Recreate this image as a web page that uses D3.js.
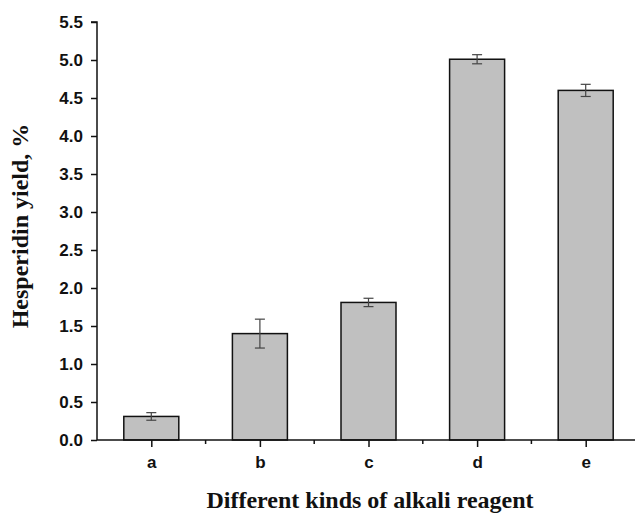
<!DOCTYPE html>
<html>
<head>
<meta charset="utf-8">
<script src="https://cdn.jsdelivr.net/npm/d3@7/dist/d3.min.js"></script>
<style>
  html, body { margin: 0; padding: 0; background: #fff; }
  svg { display: block; }
</style>
</head>
<body>
<svg id="chart" width="635" height="515"></svg>
<script>
// Hesperidin yield by alkali reagent
const categories = ["a", "b", "c", "d", "e"];
const yieldValues = [0.31, 1.40, 1.81, 5.01, 4.60];
const yieldErrors = [0.05, 0.19, 0.055, 0.06, 0.08];
const yTicks = [0, 0.5, 1, 1.5, 2, 2.5, 3, 3.5, 4, 4.5, 5, 5.5];

const svg = d3.select("#chart");
const x0 = 97, x1 = 640, yBase = 440, yTop = 22;

// categories sit at positions 1..5 on a linear axis from 0.5 to 5.5
const x = d3.scaleLinear().domain([0.5, 5.5]).range([x0, x1]);
const y = d3.scaleLinear().domain([0, 5.5]).range([yBase, yTop]);
const barW = 55;

const data = categories.map((c, i) => ({ c, pos: i + 1, v: yieldValues[i], e: yieldErrors[i] }));

// bars
svg.append("g").selectAll("rect").data(data).join("rect")
  .attr("x", d => x(d.pos) - barW / 2)
  .attr("y", d => y(d.v))
  .attr("width", barW)
  .attr("height", d => y(0) - y(d.v))
  .attr("fill", "#c0c0c0")
  .attr("stroke", "#111")
  .attr("stroke-width", 1.5);

// error bars
const eb = svg.append("g").attr("stroke", "#444").attr("stroke-width", 1.2);
data.forEach(d => {
  const cx = x(d.pos);
  eb.append("line").attr("x1", cx).attr("x2", cx).attr("y1", y(d.v + d.e)).attr("y2", y(d.v - d.e));
  eb.append("line").attr("x1", cx - 5).attr("x2", cx + 5).attr("y1", y(d.v + d.e)).attr("y2", y(d.v + d.e));
  eb.append("line").attr("x1", cx - 5).attr("x2", cx + 5).attr("y1", y(d.v - d.e)).attr("y2", y(d.v - d.e));
});

// y axis
const yAxis = d3.axisLeft(y).tickValues(yTicks).tickFormat(d3.format(".1f")).tickSize(6).tickPadding(8);
const gy = svg.append("g").attr("transform", `translate(${x0},0)`).call(yAxis);
gy.select(".domain").attr("stroke", "#111").attr("stroke-width", 1.5).attr("d", `M-6,${yTop}H0V${yBase}`);
gy.selectAll(".tick line").attr("stroke", "#111").attr("stroke-width", 1.5);
gy.selectAll(".tick text")
  .attr("font-family", "Liberation Sans, Arial, sans-serif")
  .attr("font-weight", "bold").attr("font-size", 17).attr("fill", "#111");

// x axis: major ticks at categories, minor ticks between
const xAxis = d3.axisBottom(x).tickValues(data.map(d => d.pos))
  .tickFormat((d, i) => categories[i]).tickSize(7).tickPadding(9);
const gx = svg.append("g").attr("transform", `translate(0,${yBase})`).call(xAxis);
gx.select(".domain").attr("stroke", "#111").attr("stroke-width", 1.5).attr("d", `M${x0},0H${x1}`);
gx.selectAll(".tick line").attr("stroke", "#111").attr("stroke-width", 1.5);
gx.selectAll(".tick text")
  .attr("font-family", "Liberation Sans, Arial, sans-serif")
  .attr("font-weight", "bold").attr("font-size", 17).attr("fill", "#111");
gx.append("g").selectAll("line").data(d3.range(1.5, 5.5, 1)).join("line")
  .attr("x1", d => x(d)).attr("x2", d => x(d)).attr("y1", 0).attr("y2", 4)
  .attr("stroke", "#111").attr("stroke-width", 1.5);

// axis titles
svg.append("text")
  .attr("x", 370).attr("y", 508)
  .attr("text-anchor", "middle")
  .attr("font-family", "Liberation Serif, Times New Roman, serif")
  .attr("font-weight", "bold").attr("font-size", 24).attr("fill", "#111")
  .text("Different kinds of alkali reagent");

svg.append("text")
  .attr("transform", "translate(28,226) rotate(-90)")
  .attr("text-anchor", "middle")
  .attr("font-family", "Liberation Serif, Times New Roman, serif")
  .attr("font-weight", "bold").attr("font-size", 24).attr("fill", "#111")
  .text("Hesperidin yield, %");
</script>
</body>
</html>
